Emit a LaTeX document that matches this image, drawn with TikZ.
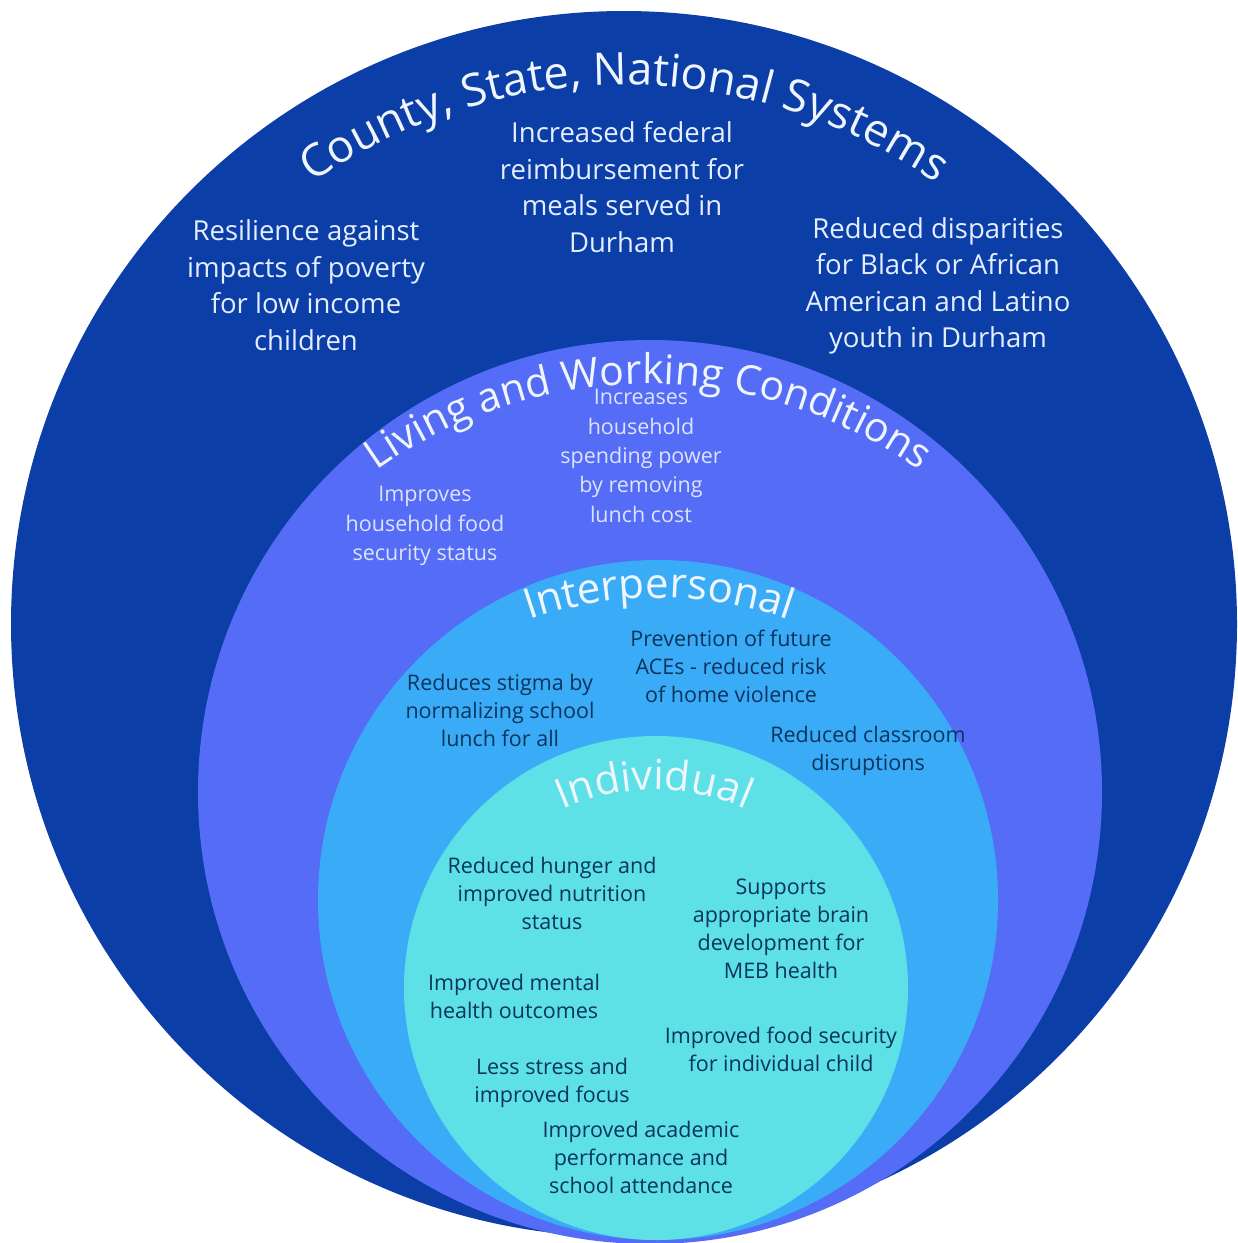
\documentclass[tikz,border=0pt]{standalone}
\usepackage{fontspec}
\setmainfont{Open Sans}
\usetikzlibrary{decorations.text}

\definecolor{systemsblue}{RGB}{12,62,168}
\definecolor{livingblue}{RGB}{84,108,246}
\definecolor{interblue}{RGB}{58,172,247}
\definecolor{indivcyan}{RGB}{93,224,230}
\definecolor{titlewhite}{RGB}{240,246,255}
\definecolor{outertextcol}{RGB}{228,238,255}
\definecolor{livtextcol}{RGB}{222,228,255}
\definecolor{innertextcol}{RGB}{12,52,92}

\newcommand{\ringTitleA}{\fontsize{45}{50}\selectfont}
\newcommand{\ringTitleB}{\fontsize{41}{46}\selectfont}
\newcommand{\ringTitleC}{\fontsize{42}{46}\selectfont}
\newcommand{\ringTitleD}{\fontsize{41.5}{46}\selectfont}

\tikzset{
  ring/.style={draw=none},
  outertext/.style={align=center, inner sep=0pt, text=outertextcol,
    font=\fontsize{27.5}{36.5}\selectfont},
  livtext/.style={align=center, inner sep=0pt, text=livtextcol,
    font=\fontsize{21.5}{29.3}\selectfont},
  innertext/.style={align=center, inner sep=0pt, text=innertextcol,
    font=\fontsize{21.5}{28}\selectfont},
}

\begin{document}
\begin{tikzpicture}[x=1pt, y=-1pt]
  \useasboundingbox (0,0) rectangle (1238,1243);

  % nested levels, from the outside in
  \fill[ring, systemsblue] (624,624) circle[radius=613];
  \fill[ring, livingblue] (650,792) circle[radius=452];
  \fill[ring, interblue]  (658,900) circle[radius=340];
  \fill[ring, indivcyan]  (656,988) circle[radius=252];

  % curved level titles
  \path[decorate, decoration={text along path, text align=center,
      text color=titlewhite,
      text={|\ringTitleA|County, State, National Systems}}]
    (624,630) ++(-170:545) arc[start angle=-170, end angle=-10, radius=545];
  \path[decorate, decoration={text along path, text align=center,
      text color=titlewhite,
      text={|\ringTitleB|Living and Working Conditions}}]
    (648,852) ++(-160:468) arc[start angle=-160, end angle=-20, radius=468];
  \path[decorate, decoration={text along path, text align=center,
      text color=titlewhite,
      text={|\ringTitleC|Interpersonal}}]
    (659,995) ++(-150:397) arc[start angle=-150, end angle=-30, radius=397];
  \path[decorate, decoration={text along path, text align=center,
      text color=titlewhite,
      text={|\ringTitleD|Individual}}]
    (654,1018) ++(-160:228) arc[start angle=-160, end angle=-20, radius=228];

  % County, State, National Systems
  \node[outertext] (resilience) at (306,285) {Resilience against\\impacts of poverty\\for low income\\children};
  \node[outertext] (federal) at (622,187) {Increased federal\\reimbursement for\\meals served in\\Durham};
  \node[outertext] (disparities) at (938,286) {Reduced disparities\\for Black or African\\American and Latino\\youth in Durham};

  % Living and Working Conditions
  \node[livtext] (foodsecurity) at (425,526) {Improves\\household food\\security status};
  \node[livtext] (spending) at (641,456) {Increases\\household\\spending power\\by removing\\lunch cost};

  % Interpersonal
  \node[innertext] (aces) at (731,666) {Prevention of future\\ACEs - reduced risk\\of home violence};
  \node[innertext] (stigma) at (500,710) {Reduces stigma by\\normalizing school\\lunch for all};
  \node[innertext] (classroom) at (868,751) {Reduced classroom\\disruptions};

  % Individual
  \node[innertext] (hunger) at (552,893) {Reduced hunger and\\improved nutrition\\status};
  \node[innertext] (brain) at (781,929) {Supports\\appropriate brain\\development for\\MEB health};
  \node[innertext] (mental) at (514,996) {Improved mental\\health outcomes};
  \node[innertext] (childfood) at (781,1049) {Improved food security\\for individual child};
  \node[innertext] (stress) at (552,1083) {Less stress and\\improved focus};
  \node[innertext] (academic) at (641,1157) {Improved academic\\performance and\\school attendance};
\end{tikzpicture}
\end{document}
